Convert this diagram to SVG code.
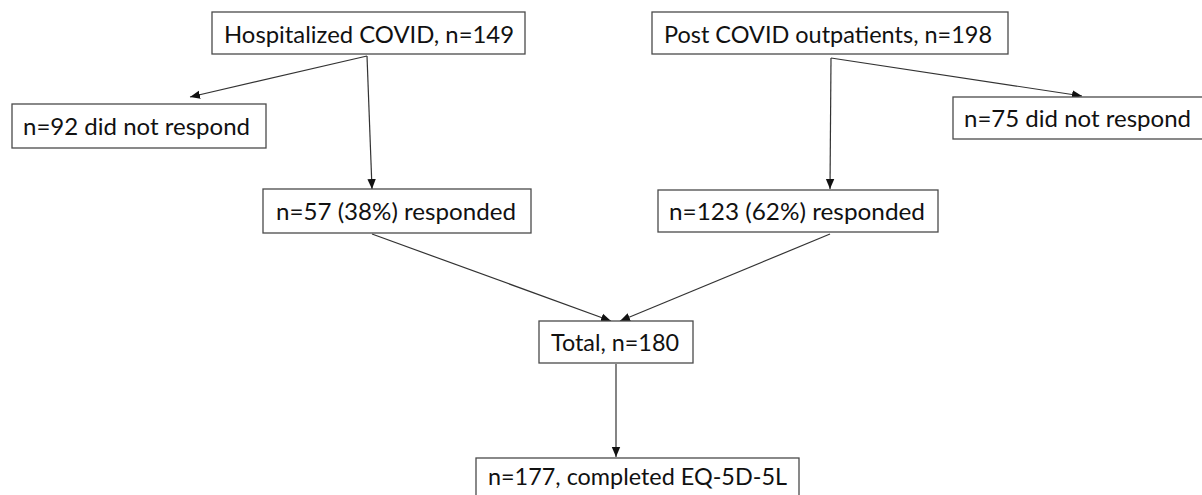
<svg xmlns="http://www.w3.org/2000/svg" width="1202" height="495" viewBox="0 0 1202 495">
  <style>
    .box { fill: #ffffff; stroke: #4a4a4a; stroke-width: 1.3; }
    .lbl { font-family: Lato, "Open Sans", "Liberation Sans", sans-serif; font-size: 24px; fill: #111111; }
    .edge { stroke: #333333; stroke-width: 1.2; fill: none; marker-end: url(#arrow); }
  </style>
  <defs>
    <marker id="arrow" markerUnits="userSpaceOnUse" markerWidth="12" markerHeight="10" refX="10" refY="5" orient="auto">
      <path d="M0,0.8 L10,5 L0,9.2 Z" fill="#111111"/>
    </marker>
  </defs>

  <rect width="1202" height="495" fill="#ffffff"/>

  <!-- connectors -->
  <g id="connectors">
    <line class="edge" x1="367" y1="56" x2="190" y2="97"/>
    <line class="edge" x1="367" y1="56" x2="372" y2="189"/>
    <line class="edge" x1="831" y1="58" x2="1082" y2="96"/>
    <line class="edge" x1="831" y1="58" x2="830" y2="189"/>
    <line class="edge" x1="372" y1="234" x2="611" y2="321"/>
    <line class="edge" x1="830" y1="234" x2="620" y2="321"/>
    <line class="edge" x1="616" y1="364" x2="616" y2="457"/>
  </g>

  <!-- nodes -->
  <g id="hospitalized">
    <rect class="box" x="212" y="12" width="313" height="42"/>
    <text class="lbl" x="224" y="43" textLength="290" lengthAdjust="spacingAndGlyphs">Hospitalized COVID, n=149</text>
  </g>
  <g id="post-covid">
    <rect class="box" x="652" y="12" width="356" height="42"/>
    <text class="lbl" x="664" y="43" textLength="328" lengthAdjust="spacingAndGlyphs">Post COVID outpatients, n=198</text>
  </g>
  <g id="hosp-nonresponders">
    <rect class="box" x="12" y="104" width="254" height="44"/>
    <text class="lbl" x="23" y="135" textLength="227" lengthAdjust="spacingAndGlyphs">n=92 did not respond</text>
  </g>
  <g id="post-nonresponders">
    <rect class="box" x="953" y="97" width="260" height="42"/>
    <text class="lbl" x="964" y="127" textLength="227" lengthAdjust="spacingAndGlyphs">n=75 did not respond</text>
  </g>
  <g id="hosp-responders">
    <rect class="box" x="263" y="189" width="268" height="44"/>
    <text class="lbl" x="276" y="220" textLength="240" lengthAdjust="spacingAndGlyphs">n=57 (38%) responded</text>
  </g>
  <g id="post-responders">
    <rect class="box" x="658" y="190" width="280" height="42"/>
    <text class="lbl" x="669" y="220" textLength="256" lengthAdjust="spacingAndGlyphs">n=123 (62%) responded</text>
  </g>
  <g id="total">
    <rect class="box" x="539" y="321" width="154" height="42"/>
    <text class="lbl" x="551" y="351" textLength="128" lengthAdjust="spacingAndGlyphs">Total, n=180</text>
  </g>
  <g id="completed">
    <rect class="box" x="476" y="458" width="323" height="50"/>
    <text class="lbl" x="488" y="485" textLength="299" lengthAdjust="spacingAndGlyphs">n=177, completed EQ-5D-5L</text>
  </g>
</svg>
